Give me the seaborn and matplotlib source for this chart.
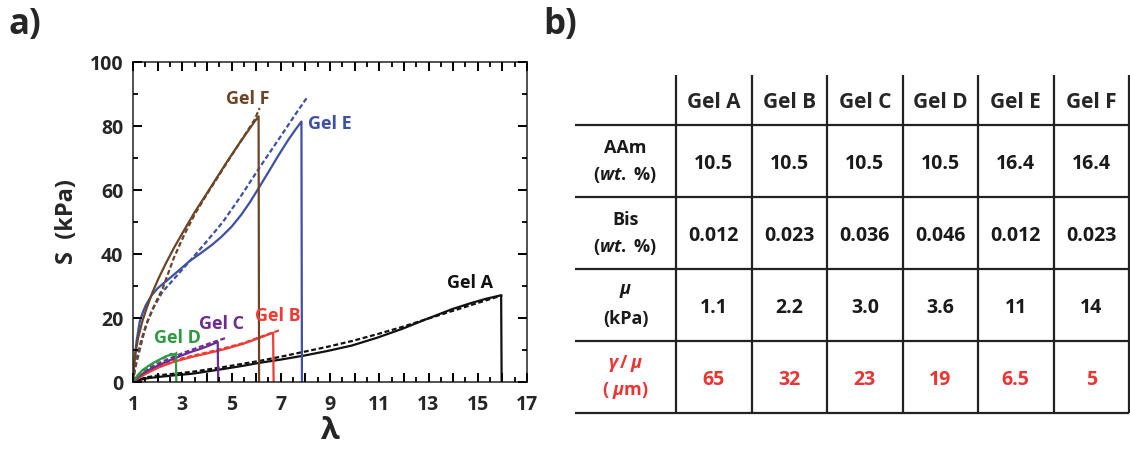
import matplotlib
matplotlib.use("Agg")
import matplotlib.pyplot as plt
import numpy as np
import pandas as pd
import seaborn as sns
from matplotlib.transforms import blended_transform_factory

# --- data ---
gels = ["Gel A", "Gel B", "Gel C", "Gel D", "Gel E", "Gel F"]
gel_colors = ["#111111", "#ef3b33", "#6b2d90", "#2f9a42", "#3e50a6", "#6b4526"]

lam_a = [1.0, 1.3, 1.6, 2.06, 2.7, 3.42, 4.1, 4.78, 5.5, 6.14, 7.0, 7.98, 8.9, 9.89, 10.9,
         11.93, 12.9, 13.97, 14.7, 15.33, 15.95]
s_a = [0.0, 0.7, 1.2, 1.6, 2.1, 2.6, 3.4, 4.2, 5.1, 6.0, 7.0, 8.3, 9.7, 11.4, 13.8,
       16.6, 19.6, 22.8, 24.6, 26.0, 27.1]
fit_lam_a = [1.0, 1.5, 2.06, 3.42, 4.78, 6.14, 7.0, 7.98, 8.9, 9.89, 10.9, 11.93, 12.9, 13.97, 15.0, 16.0]
fit_s_a = [0.0, 1.4, 2.1, 3.2, 4.8, 6.6, 7.9, 9.5, 11.0, 12.8, 14.9, 17.2, 19.6, 22.2, 24.7, 27.1]

lam_b = [1.0, 1.15, 1.3, 1.6, 2.06, 2.7, 3.42, 4.1, 4.78, 5.5, 6.14, 6.69]
s_b = [0.0, 0.9, 1.6, 2.9, 4.6, 6.4, 7.9, 9.1, 10.4, 12.0, 13.8, 15.4]
fit_lam_b = [1.0, 1.2, 1.5, 2.06, 2.7, 3.42, 4.1, 4.78, 5.5, 6.14, 6.96]
fit_s_b = [0.0, 1.4, 3.0, 5.0, 6.8, 8.2, 9.4, 10.7, 12.2, 14.0, 16.2]

lam_c = [1.0, 1.15, 1.3, 1.6, 2.06, 2.5, 3.08, 3.4, 3.76, 4.1, 4.44]
s_c = [0.0, 1.2, 2.1, 3.6, 5.3, 6.8, 8.6, 9.5, 10.4, 11.4, 12.5]
fit_lam_c = [1.0, 1.2, 1.5, 2.06, 2.5, 3.08, 3.76, 4.2, 4.78]
fit_s_c = [0.0, 1.9, 3.7, 5.9, 7.4, 9.2, 11.1, 12.3, 13.8]

lam_d = [1.0, 1.1, 1.2, 1.38, 1.6, 1.79, 2.0, 2.2, 2.35, 2.45, 2.54, 2.62, 2.74]
s_d = [0.0, 1.2, 2.2, 3.7, 4.9, 5.8, 6.7, 7.5, 8.1, 8.3, 8.8, 8.5, 8.9]
fit_lam_d = [1.0, 1.15, 1.38, 1.6, 1.79, 2.0, 2.2, 2.54, 2.8]
fit_s_d = [0.0, 1.6, 3.2, 4.6, 5.6, 6.5, 7.3, 8.5, 9.2]

lam_e = [1.0, 1.02, 1.04, 1.08, 1.15, 1.27, 1.4, 1.52, 1.75, 1.99, 2.2, 2.5, 2.88, 3.3, 3.76,
         4.2, 4.58, 5.0, 5.4, 5.75, 6.12, 6.5, 6.89, 7.3, 7.6, 7.84]
s_e = [0.0, 2.5, 4.5, 8.4, 13.0, 18.8, 21.8, 24.0, 27.0, 29.2, 30.6, 32.5, 35.0, 37.8, 40.3,
       42.8, 45.3, 48.5, 52.3, 56.2, 60.8, 65.6, 70.6, 75.6, 78.9, 81.4]
fit_lam_e = [1.0, 1.08, 1.18, 1.34, 1.52, 1.8, 2.2, 2.8, 3.42, 4.0, 4.65, 5.4, 6.12, 7.0, 7.67, 8.05]
fit_s_e = [0.0, 4.5, 8.4, 13.3, 17.6, 22.8, 28.2, 33.4, 38.8, 44.0, 50.0, 58.3, 66.8, 76.8, 84.5, 88.7]

lam_f = [1.0, 1.02, 1.05, 1.11, 1.2, 1.38, 1.55, 1.79, 2.05, 2.33, 2.67, 3.08, 3.5, 3.97,
         4.4, 4.85, 5.4, 5.94, 6.1]
s_f = [0.0, 3.0, 6.0, 9.5, 13.5, 19.0, 23.0, 28.0, 32.6, 37.0, 42.0, 47.5, 53.0, 58.6,
       63.8, 69.2, 75.5, 81.4, 83.0]
fit_lam_f = [1.0, 1.08, 1.22, 1.4, 1.58, 1.9, 2.2, 2.67, 3.08, 3.5, 3.97, 4.4, 4.85, 5.4, 5.94, 6.14]
fit_s_f = [0.0, 4.0, 8.4, 14.0, 18.8, 24.5, 29.2, 39.0, 46.0, 52.3, 58.3, 63.5, 69.0, 75.5, 82.0, 85.6]

# table contents
row_heads = ["AAm", "Bis", r"$\mathit{\mu}$", r"$\mathit{\gamma\,/\,\mu}$"]
row_units = [r"($\mathit{wt.}$ %)", r"($\mathit{wt.}$ %)", "(kPa)", r"( $\mathit{\mu}$m)"]
aam = ["10.5", "10.5", "10.5", "10.5", "16.4", "16.4"]
bis = ["0.012", "0.023", "0.036", "0.046", "0.012", "0.023"]
mu = ["1.1", "2.2", "3.0", "3.6", "11", "14"]
gamma_mu = ["65", "32", "23", "19", "6.5", "5"]

sns.set_style("ticks")
plt.rcParams["font.family"] = ["Open Sans", "DejaVu Sans"]
plt.rcParams["font.weight"] = "bold"
plt.rcParams["mathtext.fontset"] = "custom"
plt.rcParams["mathtext.it"] = "Open Sans:italic:bold"
plt.rcParams["mathtext.rm"] = "Open Sans:bold"
plt.rcParams["mathtext.bf"] = "Open Sans:bold"


def build_frame() -> pd.DataFrame:
    curves = [(lam_a, s_a, fit_lam_a, fit_s_a), (lam_b, s_b, fit_lam_b, fit_s_b),
              (lam_c, s_c, fit_lam_c, fit_s_c), (lam_d, s_d, fit_lam_d, fit_s_d),
              (lam_e, s_e, fit_lam_e, fit_s_e), (lam_f, s_f, fit_lam_f, fit_s_f)]
    parts = []
    for gel, (lx, sy, fx, fy) in zip(gels, curves):
        # measured curve ends with the sudden drop at break
        lx_full = list(lx) + [lx[-1] + 0.02]
        sy_full = list(sy) + [0.0]
        parts.append(pd.DataFrame({"lam": lx_full, "S": sy_full, "gel": gel, "kind": "data"}))
        parts.append(pd.DataFrame({"lam": fx, "S": fy, "gel": gel, "kind": "fit"}))
    return pd.concat(parts, ignore_index=True)


def inward_ticks(ax, xmaj, xmin, ymaj, ymin, w_px=394, h_px=320) -> None:
    # explicit inward tick marks on all four sides
    kw = dict(color="black", lw=1.3, clip_on=False, zorder=5)
    tx = blended_transform_factory(ax.transData, ax.transAxes)
    ty = blended_transform_factory(ax.transAxes, ax.transData)
    for xs, ln in ((xmaj, 9.0), (xmin, 5.0)):
        f = ln / h_px
        ax.vlines(xs, 0, f, transform=tx, **kw)
        ax.vlines(xs, 1 - f, 1, transform=tx, **kw)
    for ys, ln in ((ymaj, 9.0), (ymin, 5.0)):
        f = ln / w_px
        ax.hlines(ys, 0, f, transform=ty, **kw)
        ax.hlines(ys, 1 - f, 1, transform=ty, **kw)


fig = plt.figure(figsize=(11.3, 4.5), dpi=100)
ax = fig.add_axes([133 / 1130, 1 - 382 / 450, 394 / 1130, 320 / 450])

df = build_frame()
sns.lineplot(data=df, x="lam", y="S", hue="gel", style="kind", palette=dict(zip(gels, gel_colors)),
             dashes={"data": "", "fit": (2.2, 1.2)}, estimator=None, sort=False, legend=False,
             lw=1.6, ax=ax)

ax.set_xlim(1, 17)
ax.set_ylim(0, 100)
xt = np.arange(1, 18)
yt = np.arange(0, 101, 20)
ax.set_xticks(xt, labels=[str(v) if v % 2 == 1 else "" for v in xt])
ax.set_yticks(yt)
ax.set_xlabel("λ", fontsize=22, fontweight="bold", labelpad=1)
ax.set_ylabel("S  (kPa)", fontsize=17, fontweight="bold", labelpad=8)

label_pos = {"Gel A": (14.7, 31), "Gel B": (6.9, 20.5), "Gel C": (4.6, 18.2),
             "Gel D": (2.8, 13.9), "Gel E": (9.0, 80.5), "Gel F": (5.65, 88.5)}
for gel, col in zip(gels, gel_colors):
    x, y = label_pos[gel]
    ax.text(x, y, gel, color=col, fontsize=13, fontweight="bold", ha="center", va="center")

fig.text(9 / 1130, 1 - 25 / 450, "a)", fontsize=25, fontweight="bold", va="center")
fig.text(543 / 1130, 1 - 25 / 450, "b)", fontsize=25, fontweight="bold", va="center")

# --- table b) ---
tab = fig.add_axes([575 / 1130, 1 - 413 / 450, 554 / 1130, 338 / 450])
label_w = 1.34
head_h = 0.7
n_cols = len(gels)
n_rows = len(row_heads)
tab.set_xlim(0, label_w + n_cols)
tab.set_ylim(head_h + n_rows, 0)
tab.axis("off")

line_kw = dict(color="#222222", lw=1.6, clip_on=False, solid_capstyle="butt")
for r in range(n_rows + 1):
    tab.plot([0, label_w + n_cols], [head_h + r, head_h + r], **line_kw)
for c in range(n_cols + 1):
    tab.plot([label_w + c, label_w + c], [0, head_h + n_rows], **line_kw)

for c, gel in enumerate(gels):
    tab.text(label_w + c + 0.5, head_h * 0.55, gel, fontsize=15, fontweight="bold", ha="center", va="center")

rows = [aam, bis, mu, gamma_mu]
for r, (head, unit, vals) in enumerate(zip(row_heads, row_units, rows)):
    col = "#ee3333" if r == n_rows - 1 else "#1a1a1a"
    yc = head_h + r + 0.5
    tab.text(label_w / 2, yc - 0.19, head, fontsize=13, fontweight="bold", ha="center", va="center", color=col)
    tab.text(label_w / 2, yc + 0.19, unit, fontsize=13, fontweight="bold", ha="center", va="center", color=col)
    for c, v in enumerate(vals):
        tab.text(label_w + c + 0.5, yc + 0.04, v, fontsize=14, fontweight="bold", ha="center", va="center",
                 color=col)

# ticks: inward on all four sides, major every 1 (x) / 20 (y), minor in between
for sp in ax.spines.values():
    sp.set_linewidth(1.1)
    sp.set_color("#222222")
ax.tick_params(which="major", direction="in", top=True, right=True, width=1.3, color="black",
               length=6.5, labelsize=14, pad=9)
ax.tick_params(axis="y", which="major", pad=7)
inward_ticks(ax, xt, np.arange(1.5, 17, 1.0), yt, np.arange(10, 100, 20))
ax.set_xlim(1, 17)
ax.set_ylim(0, 100)
for lab in ax.get_xticklabels() + ax.get_yticklabels():
    lab.set_fontweight("bold")

fig.savefig("out.png", dpi=100)
